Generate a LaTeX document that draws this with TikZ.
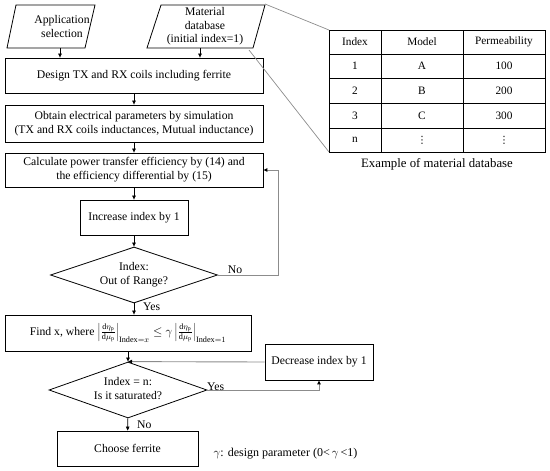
\documentclass[tikz,border=0pt]{standalone}
\usepackage{fontspec}
\setmainfont{Liberation Serif}
\newfontfamily\dvfont{DejaVu Sans}
\usetikzlibrary{arrows.meta,shapes.geometric}
\begin{document}
\begin{tikzpicture}[x=1pt,y=-1pt,
  font=\fontsize{11.7}{14}\selectfont,
  box/.style={draw=black,line width=0.8pt,rectangle,align=center,inner sep=0pt},
  dia/.style={draw=black,line width=0.8pt,diamond,inner sep=0pt},
  txt/.style={align=center,inner sep=0pt},
  arr/.style={line width=0.7pt,-{Triangle[length=4pt,width=3.5pt]}},
  loopline/.style={draw=black!45,line width=0.9pt,-{Triangle[length=4pt,width=3.5pt,color=black]}},
  grayline/.style={draw=black!45,line width=0.7pt},
  tab/.style={line width=0.8pt},
  cell/.style={inner sep=0pt,font=\fontsize{11.3}{13}\selectfont}
]
\useasboundingbox (0,0) rectangle (550,471);

% input parallelograms
\draw[line width=0.8pt] (16,5) -- (95,5) -- (85,48) -- (7,48) -- cycle;
\node[txt] (p1) at (62,26.5) {Application\\selection};
\coordinate (p1b) at (60,48);
\draw[line width=0.8pt] (161,5) -- (265,5) -- (253,48) -- (147,48) -- cycle;
\node[txt, font=\fontsize{11.7}{13.5}\selectfont] (p2) at (205,26.5) {Material\\database\\(initial index=1)};
\coordinate (p2b) at (200,48);
\coordinate (p2tr) at (265,4);
\coordinate (p2br) at (249,50);

% process boxes
\node[box, minimum width=258, minimum height=35] (b1) at (134,75.5) {Design TX and RX coils including ferrite};
\node[box, minimum width=258, minimum height=37] (b2) at (134,123.5) {Obtain electrical parameters by simulation\\(TX and RX coils inductances, Mutual inductance)};
\node[box, minimum width=258, minimum height=34] (b3) at (134,170) {Calculate power transfer efficiency by (14) and\\the efficiency differential by (15)};
\node[box, minimum width=108, minimum height=35] (b4) at (134,217.5) {Increase index by 1};
\node[dia, minimum width=167, minimum height=56] (d1) at (134,275) {};
\node[txt] (d1t) at (d1.center) {Index:\\Out of Range?};
\node[box, minimum width=246, minimum height=36] (b5) at (128,333) {Find x, where $\left|\frac{\mathrm{d}\eta_{\mathrm{p}}}{\mathrm{d}\mu_{\mathrm{p}}}\right|_{\mathrm{Index}=x}\le\gamma\left|\frac{\mathrm{d}\eta_{\mathrm{p}}}{\mathrm{d}\mu_{\mathrm{p}}}\right|_{\mathrm{Index}=1}$};
\node[dia, minimum width=158, minimum height=56] (d2) at (128,390) {};
\node[txt] (d2t) at ([yshift=1]d2.center) {Index = n:\\Is it saturated?};
\node[box, minimum width=141, minimum height=35] (b6) at (127.5,448.5) {Choose ferrite};
\node[box, minimum width=108, minimum height=36] (b7) at (319,362) {Decrease index by 1};
\node[txt, font=\fontsize{12}{14}\selectfont] (note) at (285.5,454) {$\gamma$: design parameter (0<\,$\gamma$\,<1)};

% connectors
\draw[arr] (p1b) -- (p1b |- b1.north);
\draw[arr] (p2b) -- (p2b |- b1.north);
\draw[arr] (b1) -- (b2);
\draw[arr] (b2) -- (b3);
\draw[arr] (b3) -- (b4);
\draw[arr] (b4) -- (d1);
\draw[arr] (d1.south) -- (d1.south |- b5.north);
\node[txt, anchor=west] at (143,307) {Yes};
\draw[loopline] (d1.east) -- (278,275) -- (278,170) -- (b3.east);
\node[txt, anchor=south] at (235,274) {No};
\draw[arr] (b5) -- (d2);
\draw[loopline] (b7.west) -- (d2.north);
\draw[loopline] (d2.east) -- (d2.east -| b7.south) -- (b7.south);
\node[txt, anchor=south west] at (207,391) {Yes};
\draw[arr] (d2) -- (b6);
\node[txt, anchor=west] at (137,425) {No};

% table
\coordinate (ttl) at (329,30);
\coordinate (tbl) at (329,152);
\draw[grayline] (p2tr) -- (ttl);
\draw[grayline] (p2br) -- (tbl);
\draw[tab] (329,30) rectangle (545,152);
\foreach \yy in {54,78,103,128} \draw[tab] (329,\yy) -- (545,\yy);
\foreach \xx in {381,463} \draw[tab] (\xx,30) -- (\xx,152);
\node[cell] at (355,42) {Index};
\node[cell] at (422,42) {Model};
\node[cell] at (504,42) {Permeability};
\node[cell] at (355,66) {1};
\node[cell] at (422,66) {A};
\node[cell] at (504,66) {100};
\node[cell] at (355,90.5) {2};
\node[cell] at (422,90.5) {B};
\node[cell] at (504,90.5) {200};
\node[cell] at (355,115.5) {3};
\node[cell] at (422,115.5) {C};
\node[cell] at (504,115.5) {300};
\node[cell] at (355,140) {n};
\node[cell] at (422,140) {\dvfont\fontsize{10}{12}\selectfont ⋮};
\node[cell] at (504,140) {\dvfont\fontsize{10}{12}\selectfont ⋮};
\node[txt, font=\fontsize{12.8}{15}\selectfont] (cap) at (437,164) {Example of material database};
\end{tikzpicture}
\end{document}
